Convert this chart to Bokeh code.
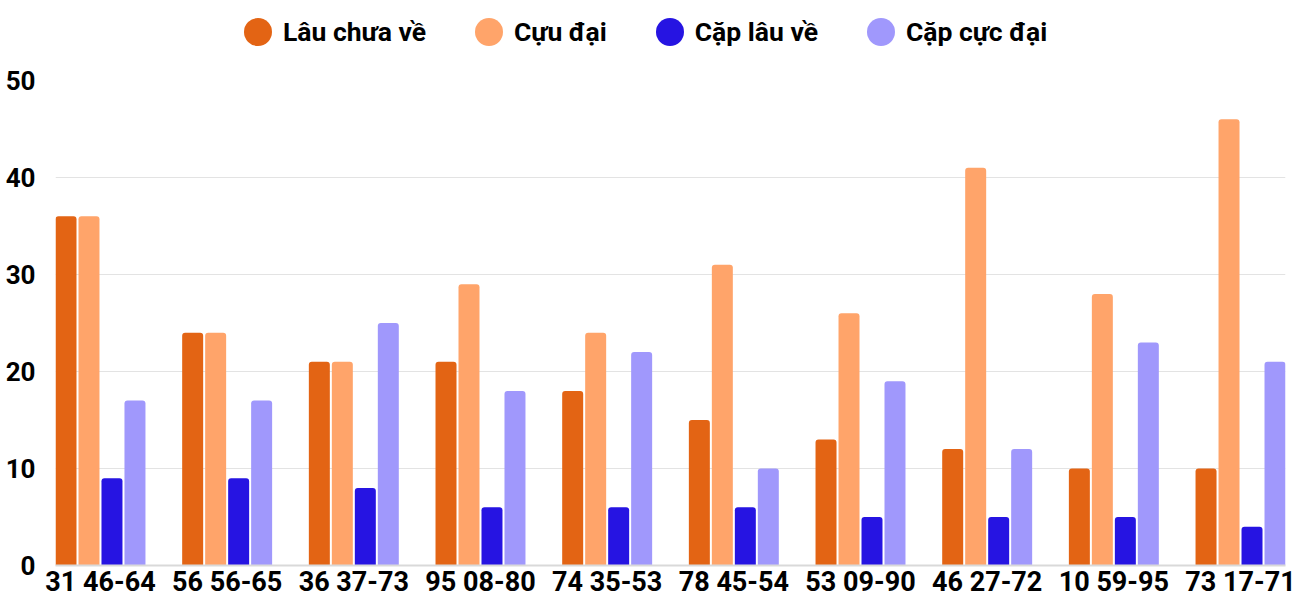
from bokeh.plotting import figure
from bokeh.layouts import column
from bokeh.models import ColumnDataSource, Legend, LegendItem
from bokeh.transform import dodge
from bokeh.embed import file_html
from bokeh.resources import INLINE

categories = ["31 46-64", "56 56-65", "36 37-73", "95 08-80", "74 35-53",
              "78 45-54", "53 09-90", "46 27-72", "10 59-95", "73 17-71"]
lau_chua_ve = [36, 24, 21, 21, 18, 15, 13, 12, 10, 10]
cuc_dai = [36, 24, 21, 29, 24, 31, 26, 41, 28, 46]
cap_lau_ve = [9, 9, 8, 6, 6, 6, 5, 5, 5, 4]
cap_cuc_dai = [17, 17, 25, 18, 22, 10, 19, 12, 23, 21]
series_names = ["Lâu chưa về", "Cựu đại", "Cặp lâu về", "Cặp cực đại"]
series_keys = ["lau_chua_ve", "cuc_dai", "cap_lau_ve", "cap_cuc_dai"]
colors = ["#E36414", "#FFA46A", "#2614E2", "#A098FC"]
y_ticks = [0, 10, 20, 30, 40, 50]

idx = list(range(len(categories)))
source = ColumnDataSource(data=dict(
    x=idx,
    lau_chua_ve=lau_chua_ve,
    cuc_dai=cuc_dai,
    cap_lau_ve=cap_lau_ve,
    cap_cuc_dai=cap_cuc_dai,
))

step = 0.1815
bar_w = 0.1657
half_span = 1.5 * step + bar_w / 2

# ---- legend strip ----
lg = figure(width=1300, height=50, x_axis_type=None, y_axis_type=None,
            output_backend="svg", toolbar_location=None, min_border=0)
lg.outline_line_color = None
lg.xgrid.visible = False
lg.ygrid.visible = False
items = []
for name, key, color in zip(series_names, series_keys, colors):
    # legend swatch: round ellipse glyph, drawn with a negligible size in the strip
    r = lg.ellipse(x="x", y=key, source=source,
                   width=0.01, height=0.01,
                   width_units="screen", height_units="screen",
                   fill_color=color, line_color=None)
    items.append(LegendItem(label=name, renderers=[r]))
legend = Legend(items=items, orientation="horizontal",
                location=(185, 1),
                glyph_width=35, glyph_height=35,
                label_standoff=8, spacing=45,
                padding=0, margin=0,
                border_line_color=None, background_fill_alpha=0,
                label_text_font="Roboto", label_text_font_style="bold",
                label_text_font_size="26.5px", label_text_color="#000000")
lg.add_layout(legend)

# ---- main chart ----
p = figure(width=1300, height=550,
           x_range=(-half_span, len(categories) - 1 + half_span),
           y_range=(0, 50),
           output_backend="svg", toolbar_location=None,
           min_border_left=55, min_border_right=15,
           min_border_top=30, min_border_bottom=0)
p.outline_line_color = None

for i, (key, color) in enumerate(zip(series_keys, colors)):
    off = (i - 1.5) * step
    p.vbar(x=dodge("x", off, range=p.x_range), top=key, width=bar_w,
           source=source, fill_color=color, line_color=None,
           border_radius=(3, 3, 0, 0))

p.xaxis.ticker = idx
p.xaxis.major_label_overrides = {i: c for i, c in enumerate(categories)}
p.xaxis.major_label_text_font = "Roboto"
p.xaxis.major_label_text_font_style = "bold"
p.xaxis.major_label_text_font_size = "27px"
p.xaxis.major_label_text_color = "#000000"
p.xaxis.major_label_standoff = 0
p.xaxis.major_tick_out = 0
p.xaxis.major_tick_in = 0
p.xaxis.minor_tick_out = 0
p.xaxis.minor_tick_in = 0
p.xaxis.major_tick_line_color = None
p.xaxis.minor_tick_line_color = None
p.xaxis.axis_line_color = "#d9d9d9"
p.xaxis.axis_line_width = 2

p.yaxis.ticker = y_ticks
p.yaxis.major_label_text_font = "Roboto"
p.yaxis.major_label_text_font_style = "bold"
p.yaxis.major_label_text_font_size = "26px"
p.yaxis.major_label_text_color = "#000000"
p.yaxis.major_label_standoff = 20
p.yaxis.major_tick_out = 0
p.yaxis.major_tick_in = 0
p.yaxis.minor_tick_out = 0
p.yaxis.minor_tick_in = 0
p.yaxis.major_tick_line_color = None
p.yaxis.minor_tick_line_color = None
p.yaxis.axis_line_color = None

p.xgrid.grid_line_color = None
p.ygrid.grid_line_color = "#e3e3e3"
p.ygrid.grid_line_width = 1

layout = column(lg, p, spacing=0)
open("out.html", "w").write(file_html(layout, INLINE))
